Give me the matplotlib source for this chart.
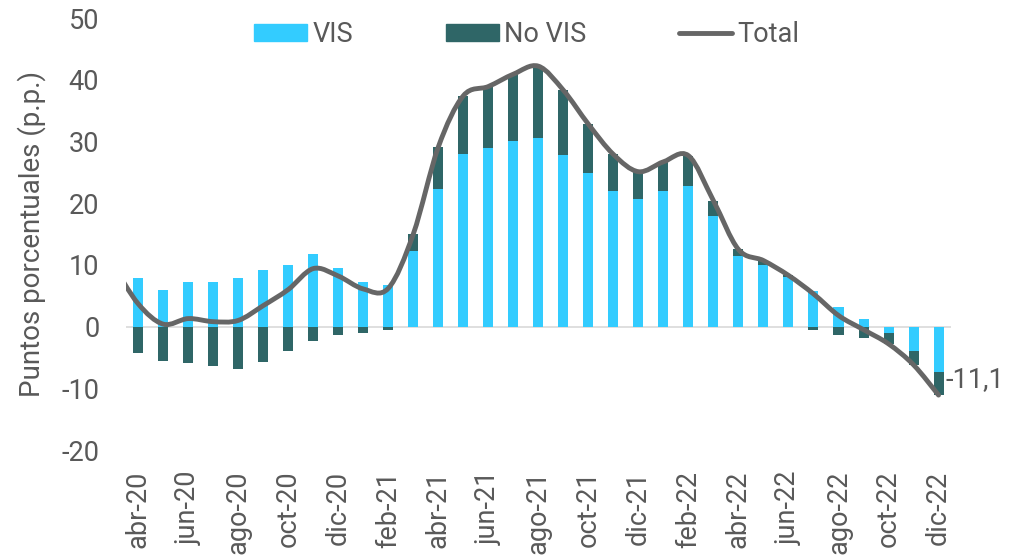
import matplotlib
matplotlib.use("Agg")
import matplotlib.pyplot as plt
from matplotlib.path import Path
from matplotlib.patches import PathPatch
from matplotlib.lines import Line2D
from matplotlib.patches import Patch
import numpy as np

months = ["abr-20", "may-20", "jun-20", "jul-20", "ago-20", "sep-20", "oct-20", "nov-20",
          "dic-20", "ene-21", "feb-21", "mar-21", "abr-21", "may-21", "jun-21", "jul-21",
          "ago-21", "sep-21", "oct-21", "nov-21", "dic-21", "ene-22", "feb-22", "mar-22",
          "abr-22", "may-22", "jun-22", "jul-22", "ago-22", "sep-22", "oct-22", "nov-22", "dic-22"]
vis = [7.9, 5.9, 7.2, 7.2, 7.8, 9.2, 10.0, 11.8, 9.5, 7.2, 6.7, 12.3, 22.3, 27.9, 28.9, 30.0,
       30.5, 27.8, 24.9, 21.9, 20.6, 22.0, 22.8, 17.9, 11.5, 9.9, 8.1, 5.8, 3.1, 1.3, -1.0, -4.0, -7.4]
no_vis = [-4.2, -5.5, -5.9, -6.4, -6.8, -5.8, -4.0, -2.4, -1.3, -1.1, -0.5, 2.7, 6.8, 9.5, 10.0, 10.9,
          11.7, 10.5, 7.9, 6.0, 4.5, 4.7, 4.9, 2.5, 1.0, 0.8, 0.2, -0.5, -1.3, -1.8, -1.8, -2.2, -3.7]
total_mar20 = 10.0  # preceding month, only partly visible at the left edge
last_label = "-11,1"

C_VIS = "#33CCFF"
C_NOVIS = "#2F6667"
C_LINE = "#666666"
C_TEXT = "#595959"
FS = 19.5

plt.rcParams['font.family'] = ['Roboto', 'DejaVu Sans']

fig = plt.figure(figsize=(10.15, 5.58), dpi=100)
ax = fig.add_axes([0.1238, 0.1935, 0.8132, 0.7742])

x = np.arange(len(months))
vis_a = np.array(vis)
nov_a = np.array(no_vis)
w = 0.4
pos_base = np.zeros(len(x))
neg_base = np.zeros(len(x))
for vals, col in [(vis_a, C_VIS), (nov_a, C_NOVIS)]:
    bottoms = np.where(vals >= 0, pos_base, neg_base)
    ax.bar(x, vals, width=w, bottom=bottoms, color=col, zorder=2)
    pos_base = pos_base + np.where(vals >= 0, vals, 0)
    neg_base = neg_base + np.where(vals < 0, vals, 0)

total = vis_a + nov_a
tx = np.concatenate([[-1], x])
ty = np.concatenate([[total_mar20], total])
pts = np.column_stack([tx, ty])
n = len(pts)
verts = [pts[0]]
codes = [Path.MOVETO]
for i in range(n - 1):
    p0 = pts[i - 1] if i > 0 else pts[i]
    p1 = pts[i]
    p2 = pts[i + 1]
    p3 = pts[i + 2] if i + 2 < n else pts[i + 1]
    c1 = p1 + (p2 - p0) / 6.0
    c2 = p2 - (p3 - p1) / 6.0
    verts += [c1, c2, p2]
    codes += [Path.CURVE4] * 3
path = Path(verts, codes)
ax.add_patch(PathPatch(path, facecolor="none", edgecolor=C_LINE, lw=3.5,
                       capstyle="round", joinstyle="round", zorder=3))

ax.axhline(0, color="#D9D9D9", lw=1.2, zorder=1)

ax.set_xlim(-0.5, len(months) - 0.5)
ax.set_ylim(-20, 50)
ax.set_yticks(range(-20, 51, 10))
ax.set_yticklabels([str(v) for v in range(-20, 51, 10)])
ax.set_xticks(x[::2])
ax.set_xticklabels(months[::2], rotation=90)
for s in ax.spines.values():
    s.set_visible(False)
ax.tick_params(axis="both", length=0, labelsize=FS, colors=C_TEXT)
ax.tick_params(axis="y", pad=19)
ax.tick_params(axis="x", pad=15)
ax.set_ylabel("Puntos porcentuales (p.p.)", fontsize=FS + 0.5, color=C_TEXT, labelpad=11)

ax.text(len(months) - 1 + 0.27, total[-1] + 2.5, last_label, fontsize=FS, color=C_TEXT,
        va="center", ha="left", clip_on=False)

handles = [Patch(color=C_VIS), Patch(color=C_NOVIS),
           Line2D([0], [0], color=C_LINE, lw=3.5, solid_capstyle="round")]
leg = ax.legend(handles, ["VIS", "No VIS", "Total"], ncol=3, loc="center",
                bbox_to_anchor=(0.486, 0.962), frameon=False, fontsize=FS,
                handlelength=1.97, handleheight=0.6, handletextpad=0.2, columnspacing=3.4)
for t in leg.get_texts():
    t.set_color(C_TEXT)

fig.savefig("out.png", dpi=100)
